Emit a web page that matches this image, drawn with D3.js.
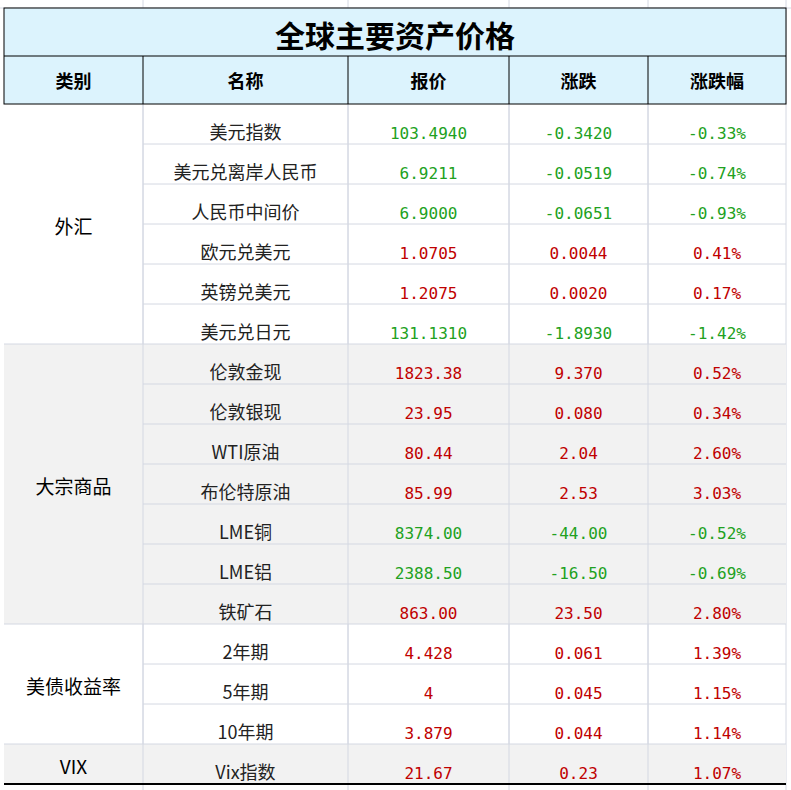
<!DOCTYPE html>
<html><head><meta charset="utf-8">
<script src="https://cdn.jsdelivr.net/npm/d3@7"></script>
<style>body{margin:0;background:#fff}text{font-family:"Noto Sans CJK SC",sans-serif}text.num{font-family:"DejaVu Sans Mono",monospace}</style>
</head><body><svg id="c" width="791" height="790"></svg>
<script>
const title = "全球主要资产价格";
const headers = ["类别", "名称", "报价", "涨跌", "涨跌幅"];
const groups = [
  { name: "外汇", n: 6, shade: false },
  { name: "大宗商品", n: 7, shade: true },
  { name: "美债收益率", n: 3, shade: false },
  { name: "VIX", n: 1, shade: true }
];
const names = ["美元指数","美元兑离岸人民币","人民币中间价","欧元兑美元","英镑兑美元","美元兑日元",
  "伦敦金现","伦敦银现","WTI原油","布伦特原油","LME铜","LME铝","铁矿石",
  "2年期","5年期","10年期","Vix指数"];
const prices = ["103.4940","6.9211","6.9000","1.0705","1.2075","131.1310",
  "1823.38","23.95","80.44","85.99","8374.00","2388.50","863.00",
  "4.428","4","3.879","21.67"];
const changes = ["-0.3420","-0.0519","-0.0651","0.0044","0.0020","-1.8930",
  "9.370","0.080","2.04","2.53","-44.00","-16.50","23.50",
  "0.061","0.045","0.044","0.23"];
const pcts = ["-0.33%","-0.74%","-0.93%","0.41%","0.17%","-1.42%",
  "0.52%","0.34%","2.60%","3.03%","-0.52%","-0.69%","2.80%",
  "1.39%","1.15%","1.14%","1.07%"];

const svg = d3.select("#c");
const colEdges = [4, 143, 348, 509, 648, 786];
const cx = i => (colEdges[i] + colEdges[i + 1]) / 2;
const y = d3.scaleLinear().domain([0, names.length]).range([104, 784]);
const green = "#21a121", red = "#c00000";

// spreadsheet background grid
const g0 = svg.append("g").attr("stroke", "#d4d8e2");
[143, 348, 509, 648, 786].forEach(v => g0.append("line").attr("x1", v).attr("x2", v).attr("y1", 0).attr("y2", 790));
g0.append("line").attr("x1", 0).attr("x2", 791).attr("y1", 8).attr("y2", 8);

// title + header
svg.append("rect").attr("x", 4).attr("y", 8).attr("width", 782).attr("height", 96).attr("fill", "#dcf3fd");
svg.append("text").attr("x", 395).attr("y", 47).attr("text-anchor", "middle").attr("font-size", 30).attr("font-weight", "bold").text(title);
headers.forEach((h, i) => svg.append("text").attr("x", cx(i)).attr("y", 88).attr("text-anchor", "middle")
  .attr("font-size", 18).attr("font-weight", "bold").text(h));

// group bands
let start = 0;
groups.forEach(gr => {
  if (gr.shade) svg.append("rect").attr("x", 4).attr("y", y(start)).attr("width", 782).attr("height", y(start + gr.n) - y(start)).attr("fill", "#f2f2f2");
  svg.append("text").attr("x", cx(0)).attr("y", (y(start) + y(start + gr.n)) / 2 + 10).attr("text-anchor", "middle")
    .attr("font-size", 19).text(gr.name);
  gr.start = start;
  start += gr.n;
});

// grid lines for rows
const gl = svg.append("g").attr("stroke", "#d4d8e2");
d3.range(1, names.length).forEach(i => gl.append("line").attr("x1", 143).attr("x2", 786).attr("y1", y(i)).attr("y2", y(i)));
groups.slice(1).forEach(gr => gl.append("line").attr("x1", 4).attr("x2", 143).attr("y1", y(gr.start)).attr("y2", y(gr.start)));
[143, 348, 509, 648].forEach(v => gl.append("line").attr("x1", v).attr("x2", v).attr("y1", 104).attr("y2", 784));

// rows
names.forEach((n, i) => {
  const ty = y(i) + 35;
  const col = changes[i].startsWith("-") ? green : red;
  svg.append("text").attr("x", cx(1)).attr("y", ty).attr("text-anchor", "middle").attr("font-size", 18).attr("fill", "#222").text(n);
  [prices[i], changes[i], pcts[i]].forEach((v, j) => svg.append("text").attr("class", "num").attr("x", cx(j + 2)).attr("y", ty)
    .attr("text-anchor", "middle").attr("font-size", 16)
    .attr("fill", col).text(v));
});

// black borders
const b = svg.append("g").attr("stroke", "#000").attr("fill", "none");
b.append("rect").attr("x", 4).attr("y", 8).attr("width", 782).attr("height", 96);
b.append("line").attr("x1", 4).attr("x2", 786).attr("y1", 56).attr("y2", 56);
[143, 348, 509, 648].forEach(v => b.append("line").attr("x1", v).attr("x2", v).attr("y1", 56).attr("y2", 104));
b.append("line").attr("x1", 4).attr("x2", 786).attr("y1", 784).attr("y2", 784).attr("stroke-width", 2);
</script></body></html>
